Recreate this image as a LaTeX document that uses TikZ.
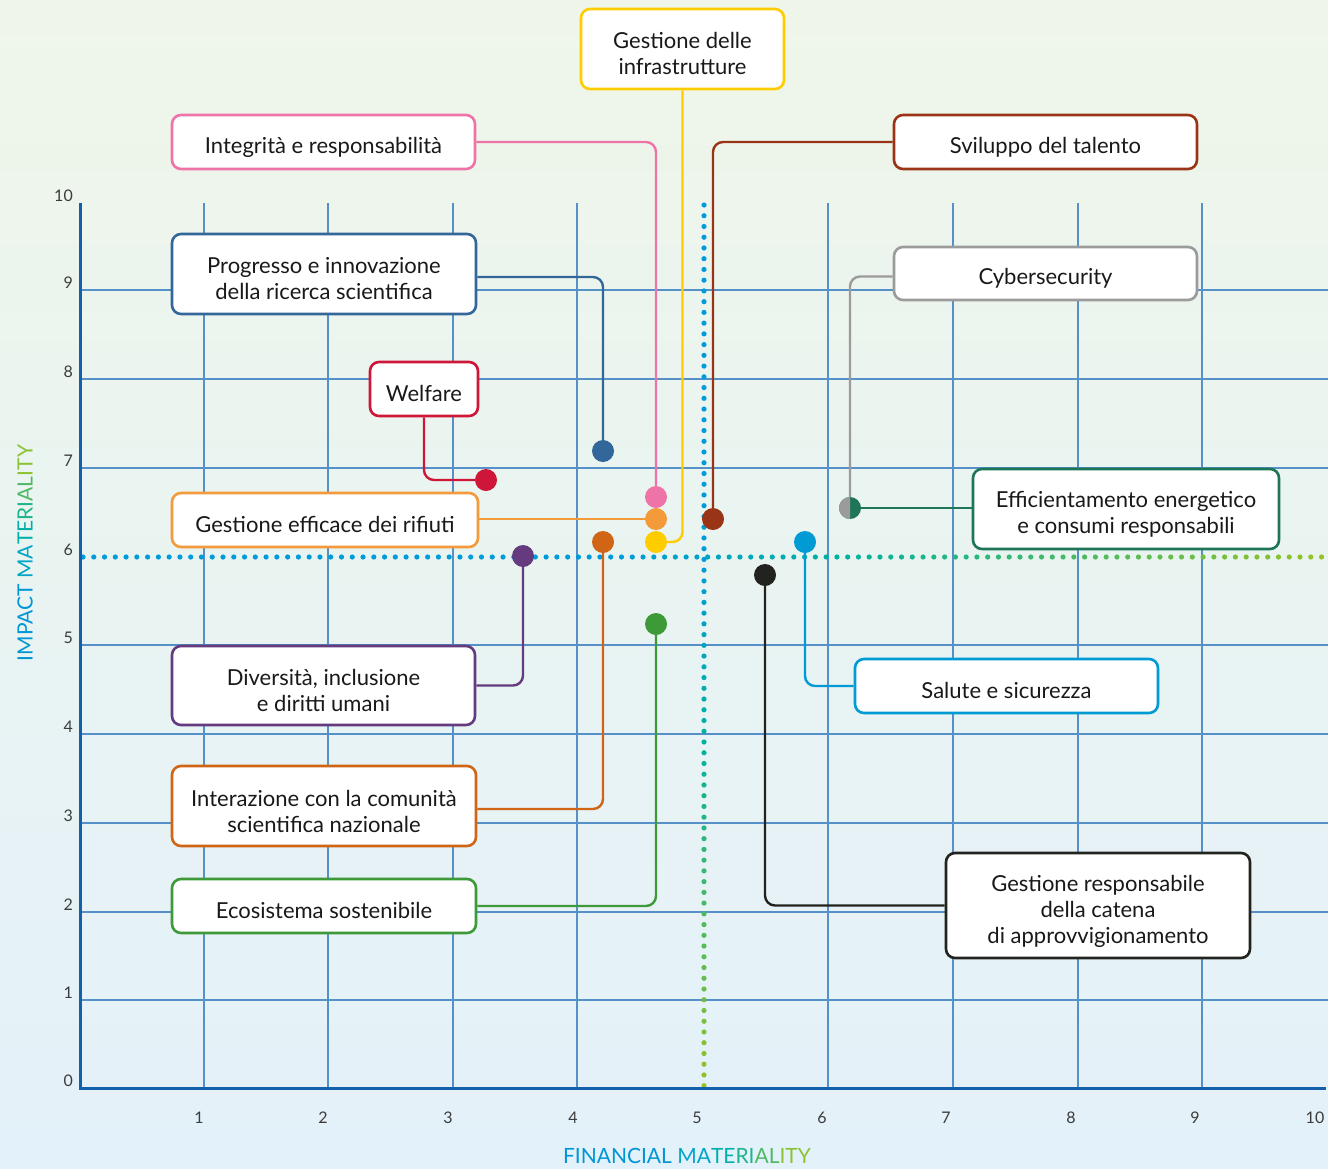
\documentclass[tikz,border=0pt]{standalone}
\usepackage{fontspec}
\setmainfont{Lato}
\definecolor{bgtop}{RGB}{239,246,233}
\definecolor{bgbot}{RGB}{227,241,250}
\definecolor{axisc}{RGB}{20,95,170}
\definecolor{gridc}{RGB}{85,145,200}
\definecolor{dblue}{RGB}{0,155,218}
\definecolor{dteal}{RGB}{0,178,160}
\definecolor{dgreen}{RGB}{150,195,35}
\definecolor{txt}{RGB}{25,25,25}
\definecolor{yellowc}{RGB}{255,204,0}
\definecolor{pinkc}{RGB}{238,116,168}
\definecolor{brownc}{RGB}{154,52,22}
\definecolor{progc}{RGB}{52,103,153}
\definecolor{grayc}{RGB}{155,155,155}
\definecolor{redc}{RGB}{206,22,56}
\definecolor{orangec}{RGB}{243,154,58}
\definecolor{effc}{RGB}{31,117,88}
\definecolor{purplec}{RGB}{101,58,126}
\definecolor{salc}{RGB}{0,154,213}
\definecolor{interc}{RGB}{208,101,22}
\definecolor{ecoc}{RGB}{62,154,56}
\definecolor{blackc}{RGB}{34,34,30}
\definecolor{t1}{RGB}{0,150,214}
\definecolor{t2}{RGB}{0,165,200}
\definecolor{t3}{RGB}{0,175,170}
\definecolor{t4}{RGB}{30,180,140}
\definecolor{t5}{RGB}{80,185,100}
\definecolor{t6}{RGB}{140,195,50}
\begin{document}
\begin{tikzpicture}[x=1pt,y=-1pt,
  box/.style={draw, fill=white, rounded corners=9pt, line width=2.6pt, inner sep=0pt},
  boxtext/.style={align=center, inner sep=0pt, text=txt, font=\fontsize{22}{26}\selectfont},
  conn/.style={line width=2.4pt, rounded corners=10pt},
  tick/.style={text=txt!85, font=\fontsize{16}{18}\selectfont, inner sep=0pt}]
\useasboundingbox (0,0) rectangle (1328,1168);
\shade[top color=bgtop, bottom color=bgbot] (0,0) rectangle (1328,1168);
% grid
\foreach \x in {204,328,453,577,828,953,1078,1202}
  \draw[gridc, line width=1.2pt] (\x,203) -- (\x,1088);
\foreach \y in {1000,912,823,734,645,468,379,290}
  \draw[gridc, line width=1.2pt] (80,\y) -- (1328,\y);
% dotted lines
\foreach \i in {0,...,115}{
  \pgfmathsetmacro\xx{83+\i*10.77}
  \ifnum\i<50 \def\cc{dblue}\else
    \ifnum\i<70 \pgfmathtruncatemacro\p{(\i-50)*5}\edef\cc{dteal!\p!dblue}\else
      \pgfmathtruncatemacro\p{(\i-70)*100/45}\edef\cc{dgreen!\p!dteal}\fi\fi
  \fill[\cc] (\xx,557) circle (2.6pt);
}
\foreach \i in {0,...,82}{
  \pgfmathsetmacro\yy{205+\i*10.74}
  \ifnum\i<33 \def\cc{dblue}\else
    \ifnum\i<50 \pgfmathtruncatemacro\p{(\i-33)*100/17}\edef\cc{dteal!\p!dblue}\else
      \pgfmathtruncatemacro\p{(\i-50)*100/32}\edef\cc{dgreen!\p!dteal}\fi\fi
  \fill[\cc] (704,\yy) circle (2.6pt);
}
% axes
\draw[axisc, line width=3pt] (80,203) -- (80,1088) -- (1326,1088);
% tick labels
\foreach \v/\y in {0/1088,1/1000,2/912,3/823,4/734,5/645,6/557,7/468,8/379,9/290,10/203}
  \node[tick, anchor=east] at (73,\y-7) {\v};
\foreach \v/\x in {1/199,2/323,3/448,4/573,5/697,6/822,7/946,8/1071,9/1195,10/1315}
  \node[tick] at (\x,1118) {\v};
% axis titles
\node[inner sep=0pt, font=\fontsize{21}{24}\selectfont] (xtitle) at (687,1156)
  {\textcolor{t1}{FINANCIAL }\textcolor{t2}{MA}\textcolor{t3}{TE}\textcolor{t4}{RI}\textcolor{t5}{AL}\textcolor{t6}{ITY}};
\node[inner sep=0pt, rotate=90, font=\fontsize{21}{24}\selectfont] (ytitle) at (25,553)
  {\textcolor{t1}{IMPACT }\textcolor{t2}{MA}\textcolor{t3}{TE}\textcolor{t4}{RI}\textcolor{t5}{AL}\textcolor{t6}{ITY}};
% dot coordinates
\coordinate (ydot) at (656,542);
\coordinate (pdot) at (656,497);
\coordinate (brdot) at (713,519);
\coordinate (bldot) at (603,451);
\coordinate (cdot) at (850,508);
\coordinate (rdot) at (486,480);
\coordinate (odot) at (656,519);
\coordinate (pudot) at (523,556);
\coordinate (bdot) at (805,542);
\coordinate (o2dot) at (603,542);
\coordinate (grdot) at (656,624);
\coordinate (kdot) at (765,575);
% boxes
\node[box, draw=yellowc, minimum width=203pt, minimum height=80pt] (infra) at (682.5,49) {};
\node[boxtext] (infrat) at ([yshift=-4pt]infra.center) {Gestione delle\\infrastrutture};
\node[box, draw=pinkc, minimum width=303pt, minimum height=54pt] (integ) at (323.5,142) {};
\node[boxtext] (integt) at ([yshift=-5pt]integ.center) {Integrità e responsabilità};
\node[box, draw=brownc, minimum width=303pt, minimum height=54pt] (svil) at (1045.5,142) {};
\node[boxtext] (svilt) at ([yshift=-5pt]svil.center) {Sviluppo del talento};
\node[box, draw=progc, minimum width=304pt, minimum height=80pt] (prog) at (324,274) {};
\node[boxtext] (progt) at ([yshift=-5pt]prog.center) {Progresso e innovazione\\della ricerca scientifica};
\node[box, draw=grayc, minimum width=303pt, minimum height=53pt] (cyb) at (1045.5,273.5) {};
\node[boxtext] (cybt) at ([yshift=-5pt]cyb.center) {Cybersecurity};
\node[box, draw=redc, minimum width=108pt, minimum height=54pt] (welf) at (424,389) {};
\node[boxtext] (welft) at ([yshift=-4pt]welf.center) {Welfare};
\node[box, draw=orangec, minimum width=306pt, minimum height=54pt] (rif) at (325,520) {};
\node[boxtext] (rift) at ([yshift=-4pt]rif.center) {Gestione efficace dei rifiuti};
\node[box, draw=effc, minimum width=306pt, minimum height=80pt] (eff) at (1126,509) {};
\node[boxtext] (efft) at ([yshift=-5pt]eff.center) {Efficientamento energetico\\e consumi responsabili};
\node[box, draw=purplec, minimum width=303pt, minimum height=79pt] (div) at (323.5,685.5) {};
\node[boxtext] (divt) at ([yshift=-5pt]div.center) {Diversità, inclusione\\e diritti umani};
\node[box, draw=salc, minimum width=303pt, minimum height=54pt] (sal) at (1006.5,686) {};
\node[boxtext] (salt) at ([yshift=-4pt]sal.center) {Salute e sicurezza};
\node[box, draw=interc, minimum width=304pt, minimum height=80pt] (inter) at (324,806) {};
\node[boxtext] (intert) at ([yshift=-5pt]inter.center) {Interazione con la comunità\\scientifica nazionale};
\node[box, draw=ecoc, minimum width=304pt, minimum height=54pt] (eco) at (324,906) {};
\node[boxtext] (ecot) at ([yshift=-4pt]eco.center) {Ecosistema sostenibile};
\node[box, draw=blackc, minimum width=304pt, minimum height=105pt] (gres) at (1098,905.5) {};
\node[boxtext] (grest) at ([yshift=-6pt]gres.center) {Gestione responsabile\\della catena\\di approvvigionamento};
% connectors
\draw[conn, yellowc] (infra.south) |- (ydot);
\draw[conn, pinkc] (integ.east) -| (pdot);
\draw[conn, brownc] (svil.west) -| (brdot);
\draw[conn, progc] ([yshift=-3pt]prog.east) -| (bldot);
\draw[conn, grayc] ([yshift=-3pt]cyb.west) -| (cdot);
\draw[conn, effc] (cdot -| eff.west) -- (cdot);
\draw[conn, redc] (welf.south) |- (rdot);
\draw[conn, orangec] (odot -| rif.east) -- (odot);
\draw[conn, purplec] (div.east) -| (pudot);
\draw[conn, salc] (sal.west) -| (bdot);
\draw[conn, interc] ([yshift=-3pt]inter.east) -| (o2dot);
\draw[conn, ecoc] (eco.east) -| (grdot);
\draw[conn, blackc] (gres.west) -| (kdot);
% dots
\fill[yellowc] (ydot) circle (11pt);
\fill[pinkc] (pdot) circle (11pt);
\fill[brownc] (brdot) circle (11pt);
\fill[progc] (bldot) circle (11pt);
\fill[effc] (cdot) circle (11pt);
\begin{scope}
  \clip (837,495) rectangle (850,521);
  \fill[grayc] (cdot) circle (11pt);
\end{scope}
\fill[redc] (rdot) circle (11pt);
\fill[orangec] (odot) circle (11pt);
\fill[purplec] (pudot) circle (11pt);
\fill[salc] (bdot) circle (11pt);
\fill[interc] (o2dot) circle (11pt);
\fill[ecoc] (grdot) circle (11pt);
\fill[blackc] (kdot) circle (11pt);
\end{tikzpicture}
\end{document}
